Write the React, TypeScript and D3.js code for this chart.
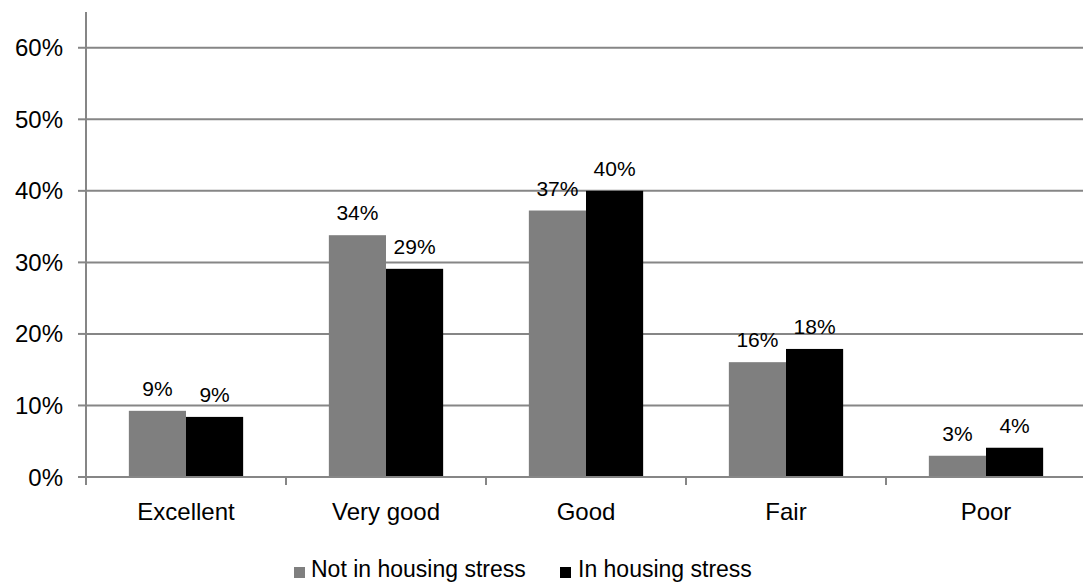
import { useMemo } from "react";
import * as d3 from "d3";

const WIDTH = 1083;
const HEIGHT = 587;
const MARGIN = { top: 12, left: 86, bottom: 110, right: -3 };

const categories = ["Excellent", "Very good", "Good", "Fair", "Poor"];
const seriesNames = ["Not in housing stress", "In housing stress"];
const notInStress = [0.0925, 0.338, 0.3725, 0.1605, 0.0297];
const inStress = [0.084, 0.291, 0.4, 0.179, 0.0409];
const labelsNotIn = ["9%", "34%", "37%", "16%", "3%"];
const labelsIn = ["9%", "29%", "40%", "18%", "4%"];
const yTicks = [0, 0.1, 0.2, 0.3, 0.4, 0.5, 0.6];
const COLORS = ["#7f7f7f", "#000000"];
const AXIS_COLOR = "#868686";
const FONT = "'Liberation Sans', Arial, sans-serif";

export default function App() {
  const x0 = useMemo(
    () =>
      d3
        .scaleBand<string>()
        .domain(categories)
        .range([MARGIN.left, MARGIN.left + 1000])
        .paddingInner(1.5 / 3.5)
        .paddingOuter(0.75 / 3.5),
    []
  );
  const x1 = useMemo(
    () => d3.scaleBand<string>().domain(seriesNames).range([0, x0.bandwidth()]),
    [x0]
  );
  const y = useMemo(
    () => d3.scaleLinear().domain([0, 0.65]).range([477, MARGIN.top]),
    []
  );

  const series = [
    { name: seriesNames[0], values: notInStress, labels: labelsNotIn, color: COLORS[0] },
    { name: seriesNames[1], values: inStress, labels: labelsIn, color: COLORS[1] },
  ];

  const step = x0.step();
  const boundaries = d3.range(categories.length + 1).map((i) => MARGIN.left + i * step);

  return (
    <div style={{ position: "absolute", left: 0, top: 0 }}>
      <svg width={WIDTH} height={HEIGHT} style={{ display: "block", fontFamily: FONT }}>
        <rect width={WIDTH} height={HEIGHT} fill="#fff" />
        {/* gridlines */}
        {yTicks.slice(1).map((t) => (
          <line
            key={t}
            x1={MARGIN.left}
            x2={MARGIN.left + 1000}
            y1={y(t)}
            y2={y(t)}
            stroke={AXIS_COLOR}
            strokeWidth={2}
          />
        ))}
        {/* bars */}
        {series.map((s) =>
          categories.map((c, i) => (
            <rect
              key={s.name + c}
              x={(x0(c) as number) + (x1(s.name) as number)}
              y={y(s.values[i])}
              width={x1.bandwidth()}
              height={y(0) - y(s.values[i])}
              fill={s.color}
            />
          ))
        )}
        {/* data labels */}
        {series.map((s) =>
          categories.map((c, i) => (
            <text
              key={"l" + s.name + c}
              x={(x0(c) as number) + (x1(s.name) as number) + x1.bandwidth() / 2}
              y={y(s.values[i]) - 15}
              textAnchor="middle"
              fontSize={21}
              fill="#000"
            >
              {s.labels[i]}
            </text>
          ))
        )}
        {/* y axis */}
        <line x1={MARGIN.left} x2={MARGIN.left} y1={MARGIN.top} y2={485} stroke={AXIS_COLOR} strokeWidth={2} />
        {yTicks.map((t) => (
          <g key={"t" + t}>
            <line x1={78} x2={MARGIN.left} y1={y(t)} y2={y(t)} stroke={AXIS_COLOR} strokeWidth={2} />
            <text x={63} y={y(t) + 8.5} textAnchor="end" fontSize={24} fill="#000">
              {d3.format(".0%")(t)}
            </text>
          </g>
        ))}
        {/* x axis */}
        <line x1={MARGIN.left} x2={MARGIN.left + 1000} y1={y(0)} y2={y(0)} stroke={AXIS_COLOR} strokeWidth={2} />
        {boundaries.map((b) => (
          <line key={"b" + b} x1={b} x2={b} y1={y(0)} y2={485} stroke={AXIS_COLOR} strokeWidth={2} />
        ))}
        {categories.map((c) => (
          <text
            key={"c" + c}
            x={(x0(c) as number) + x0.bandwidth() / 2}
            y={520}
            textAnchor="middle"
            fontSize={24}
            fill="#000"
          >
            {c}
          </text>
        ))}
        {/* legend */}
        <g>
          <rect x={294} y={567} width={11} height={11} fill={COLORS[0]} />
          <text x={311} y={577} fontSize={23} fill="#000">{seriesNames[0]}</text>
          <rect x={560} y={567} width={11} height={11} fill={COLORS[1]} />
          <text x={578} y={577} fontSize={23} fill="#000">{seriesNames[1]}</text>
        </g>
      </svg>
    </div>
  );
}
